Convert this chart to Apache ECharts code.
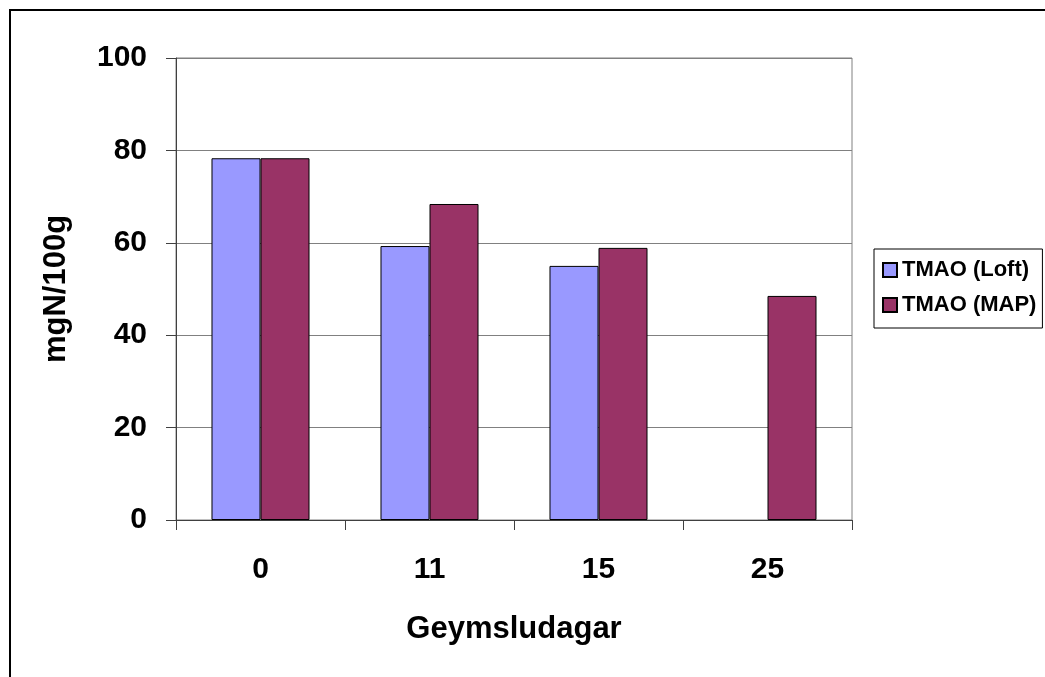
<!DOCTYPE html>
<html>
<head>
<meta charset="utf-8">
<script src="https://cdn.jsdelivr.net/npm/echarts@6/dist/echarts.min.js"></script>
<style>
html,body{margin:0;padding:0;background:#fff;overflow:hidden;}
#chart{width:1045px;height:677px;position:absolute;left:0;top:0;}
#frame{position:absolute;left:9px;top:9px;width:1100px;height:800px;border:2px solid #000;pointer-events:none;}
</style>
</head>
<body>
<div id="chart"></div>
<div id="frame"></div>
<script>
var categories = ['0', '11', '15', '25'];
var loftValues = [78.3, 59.3, 55.0, null];
var mapValues = [78.3, 68.4, 58.9, 48.5];
var seriesNames = ['TMAO (Loft)', 'TMAO (MAP)'];
var yTicks = { min: 0, max: 100, interval: 20 };

var font = '"Liberation Sans", Arial, sans-serif';
var chart = echarts.init(document.getElementById('chart'));
chart.setOption({
  animation: false,
  backgroundColor: 'transparent',
  grid: {
    left: 176, right: 193, top: 58, bottom: 157,
    show: true, borderColor: '#808080', borderWidth: 1
  },
  legend: {
    orient: 'vertical',
    left: 874, top: 249,
    padding: [10, 6, 12, 8],
    itemWidth: 14, itemHeight: 14, itemGap: 13,
    icon: 'rect',
    borderColor: '#000', borderWidth: 1,
    data: seriesNames,
    textStyle: { fontFamily: font, fontWeight: 'bold', fontSize: 22, color: '#000', lineHeight: 22 }
  },
  xAxis: {
    type: 'category',
    data: categories,
    name: 'Geymsludagar',
    nameLocation: 'middle',
    nameGap: 94,
    nameTextStyle: { fontFamily: font, fontWeight: 'bold', fontSize: 31, color: '#000' },
    axisLine: { lineStyle: { color: '#404040', width: 1 } },
    axisTick: { show: true, inside: false, length: 10, alignWithLabel: false, lineStyle: { color: '#404040' } },
    axisLabel: { margin: 35, fontFamily: font, fontWeight: 'bold', fontSize: 30, color: '#000' },
    splitLine: { show: false }
  },
  yAxis: {
    type: 'value',
    min: yTicks.min, max: yTicks.max, interval: yTicks.interval,
    name: 'mgN/100g',
    nameLocation: 'middle',
    nameGap: 104,
    nameRotate: 90,
    nameTextStyle: { fontFamily: font, fontWeight: 'bold', fontSize: 31, color: '#000' },
    axisLine: { show: true, lineStyle: { color: '#404040', width: 1 } },
    axisTick: { show: true, inside: false, length: 10, lineStyle: { color: '#404040' } },
    axisLabel: { margin: 29, fontFamily: font, fontWeight: 'bold', fontSize: 30, color: '#000' },
    splitLine: { show: true, lineStyle: { color: '#808080', width: 1 } }
  },
  series: [
    {
      name: seriesNames[0], type: 'bar', data: loftValues,
      barGap: '0%', barCategoryGap: '42%',
      itemStyle: { color: '#9999FF', borderColor: '#000', borderWidth: 1 }
    },
    {
      name: seriesNames[1], type: 'bar', data: mapValues,
      barGap: '0%', barCategoryGap: '42%',
      itemStyle: { color: '#993366', borderColor: '#000', borderWidth: 1 }
    }
  ]
});
</script>
</body>
</html>
